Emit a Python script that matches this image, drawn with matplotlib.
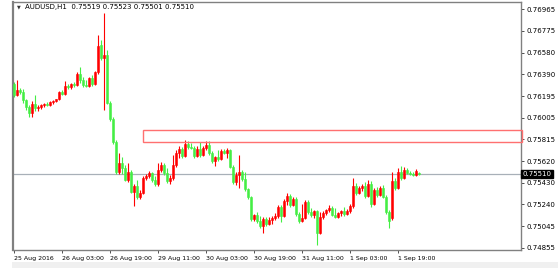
import matplotlib
matplotlib.use("Agg")
import matplotlib.pyplot as plt
from matplotlib.patches import Rectangle
import numpy as np

# AUDUSD H1 candles, prices in points (1e-5)
opens = [76303, 76206, 76250, 76232, 76161, 76100, 76047, 76126, 76091, 76100,
         76117, 76126, 76117, 76144, 76153, 76170, 76232, 76214, 76285, 76276,
         76303, 76294, 76391, 76338, 76294, 76285, 76356, 76303, 76409, 76647,
         76532, 76559, 76135, 75994, 75791, 75526, 75605, 75561, 75455, 75526,
         75349, 75402, 75305, 75340, 75473, 75490, 75517, 75455, 75420, 75543,
         75587, 75517, 75446, 75473, 75587, 75693, 75729, 75667, 75773, 75746,
         75738, 75667, 75729, 75676, 75738, 75764, 75693, 75623, 75658, 75640,
         75711, 75693, 75720, 75570, 75437, 75499, 75526, 75464, 75376, 75305,
         75111, 75146, 75093, 75049, 75111, 75067, 75102, 75120, 75137, 75217,
         75137, 75270, 75314, 75234, 75287, 75155, 75093, 75120, 75261, 75172,
         75146, 75181, 74987, 75128, 75164, 75190, 75208, 75146, 75128, 75164,
         75181, 75155, 75181, 75225, 75402, 75340, 75384, 75402, 75314, 75420,
         75243, 75367, 75323, 75384, 75305, 75172, 75120, 75446, 75384, 75526,
         75473, 75543, 75517, 75508, 75499, 75519]
highs = [76320, 76338, 76267, 76259, 76170, 76117, 76153, 76206, 76117, 76126,
         76135, 76144, 76153, 76161, 76170, 76241, 76250, 76329, 76303, 76312,
         76320, 76409, 76453, 76365, 76338, 76365, 76382, 76418, 76735, 76691,
         76930, 76603, 76153, 76011, 75808, 75693, 75658, 75587, 75605, 75543,
         75420, 75455, 75367, 75490, 75508, 75535, 75526, 75490, 75605, 75614,
         75605, 75561, 75499, 75676, 75720, 75755, 75746, 75808, 75799, 75782,
         75755, 75755, 75791, 75755, 75799, 75799, 75711, 75667, 75720, 75729,
         75729, 75738, 75729, 75587, 75526, 75676, 75543, 75526, 75384, 75314,
         75155, 75172, 75137, 75128, 75128, 75128, 75137, 75164, 75234, 75234,
         75287, 75340, 75331, 75305, 75305, 75172, 75243, 75278, 75278, 75208,
         75190, 75190, 75172, 75181, 75199, 75234, 75225, 75208, 75172, 75190,
         75217, 75199, 75243, 75473, 75429, 75402, 75420, 75437, 75455, 75446,
         75384, 75393, 75402, 75411, 75323, 75190, 75526, 75473, 75561, 75579,
         75570, 75561, 75535, 75526, 75552, 75523]
lows = [76188, 76197, 76214, 76135, 76073, 76011, 76011, 76064, 76064, 76082,
        76100, 76108, 76108, 76126, 76144, 76161, 76206, 76206, 76259, 76259,
        76276, 76285, 76312, 76276, 76276, 76276, 76285, 76294, 76391, 76515,
        76073, 76126, 75976, 75773, 75508, 75508, 75508, 75446, 75437, 75340,
        75225, 75287, 75287, 75331, 75455, 75473, 75437, 75402, 75402, 75526,
        75499, 75429, 75420, 75455, 75570, 75649, 75649, 75658, 75729, 75729,
        75649, 75658, 75658, 75667, 75720, 75676, 75605, 75579, 75623, 75632,
        75685, 75649, 75561, 75420, 75411, 75384, 75446, 75358, 75287, 75093,
        75093, 75075, 75031, 74987, 75049, 75058, 75067, 75102, 75120, 75084,
        75128, 75234, 75217, 75225, 75137, 75075, 75084, 75111, 75155, 75128,
        75120, 74881, 74978, 75111, 75146, 75172, 75137, 75120, 75120, 75137,
        75137, 75146, 75164, 75208, 75323, 75331, 75358, 75296, 75305, 75217,
        75234, 75305, 75314, 75296, 75155, 75031, 75102, 75367, 75376, 75455,
        75464, 75508, 75499, 75490, 75490, 75501]
closes = [76206, 76250, 76232, 76161, 76100, 76047, 76126, 76091, 76100, 76117,
          76126, 76117, 76144, 76153, 76170, 76232, 76214, 76285, 76276, 76303,
          76294, 76391, 76338, 76294, 76285, 76356, 76303, 76409, 76638, 76532,
          76559, 76135, 75994, 75791, 75526, 75605, 75561, 75455, 75526, 75349,
          75402, 75305, 75340, 75473, 75490, 75517, 75455, 75420, 75543, 75587,
          75517, 75446, 75473, 75587, 75693, 75729, 75667, 75773, 75746, 75738,
          75667, 75729, 75676, 75738, 75764, 75693, 75623, 75658, 75640, 75711,
          75693, 75720, 75570, 75437, 75499, 75526, 75464, 75376, 75305, 75111,
          75146, 75093, 75049, 75111, 75067, 75102, 75120, 75137, 75217, 75137,
          75270, 75314, 75234, 75287, 75155, 75093, 75120, 75261, 75172, 75146,
          75181, 74987, 75128, 75164, 75190, 75208, 75146, 75128, 75164, 75181,
          75155, 75181, 75225, 75402, 75340, 75384, 75402, 75314, 75420, 75243,
          75367, 75323, 75384, 75305, 75172, 75093, 75446, 75384, 75526, 75473,
          75543, 75517, 75508, 75499, 75535, 75510]

time_labels = ["25 Aug 2016", "26 Aug 03:00", "26 Aug 19:00", "29 Aug 11:00",
               "30 Aug 03:00", "30 Aug 19:00", "31 Aug 11:00", "1 Sep 03:00",
               "1 Sep 19:00"]
price_ticks = [0.76965, 0.76775, 0.76580, 0.76390, 0.76195, 0.76005,
               0.75815, 0.75620, 0.75430, 0.75240, 0.75045, 0.74855]
zone_top, zone_bottom = 0.75897, 0.75790
zone_start = 43
bid = 0.75510

o = np.array(opens) / 1e5
h = np.array(highs) / 1e5
l = np.array(lows) / 1e5
c = np.array(closes) / 1e5
idx = np.arange(len(c))

up_col = "#ff0000"
dn_col = "#44ee44"

fig = plt.figure(figsize=(5.58, 2.68), dpi=100)
fig.patch.set_facecolor("white")
ax = fig.add_axes([13 / 558, 18 / 268, 508 / 558, 248 / 268])

up = c >= o
cols = np.where(up, up_col, dn_col)
ax.vlines(idx, l, h, colors=cols, linewidth=0.8, zorder=2)
body_lo = np.minimum(o, c)
body_h = np.abs(c - o)
ax.bar(idx, body_h, bottom=body_lo, width=0.7, color=cols,
       edgecolor=cols, linewidth=0.4, zorder=3)

# bid line
ax.axhline(bid, color="#a8b0b8", linewidth=0.9, zorder=1)

# resistance zone, runs to the right edge of the chart
xmax = 169
ax.add_patch(Rectangle((zone_start, zone_bottom), xmax + 0.5 - zone_start,
                       zone_top - zone_bottom, fill=False,
                       edgecolor="#ff7070", linewidth=1.0, zorder=4,
                       clip_on=False))

ax.set_xlim(-0.4, xmax)
ax.set_ylim(0.74837, 0.77027)

for s in ax.spines.values():
    s.set_color("#808080")
    s.set_linewidth(1.0)
ax.spines["left"].set_linewidth(1.6)

ax.yaxis.tick_right()
ax.set_yticks(price_ticks)
ax.set_yticklabels(["%.5f" % p for p in price_ticks])
ax.set_xticks(np.arange(len(time_labels)) * 16)
ax.set_xticklabels(time_labels, ha="left")
ax.tick_params(axis="both", colors="#333333", length=2,
               width=0.6, pad=2, labelcolor="black")
ax.tick_params(axis="y", labelsize=5)
ax.tick_params(axis="x", labelsize=4.5)

# bid label
ax.text(1.003, bid, "%.5f" % bid, transform=ax.get_yaxis_transform(),
        ha="left", va="center", fontsize=5, color="white",
        bbox=dict(boxstyle="square,pad=0.15", fc="black", ec="black"))

# header
fig.text(17 / 558, 1 - 7 / 268, "\u25bc", fontsize=3.5, va="center",
         color="#333333")
fig.text(25 / 558, 1 - 7 / 268, "AUDUSD,H1  0.75519 0.75523 0.75501 0.75510",
         fontsize=5, va="center", color="black")

# scrollbar strip at the bottom
fig.patches.append(Rectangle((12 / 558, 0), 546 / 558, 6 / 268,
                             transform=fig.transFigure, fc="#f0f0f0",
                             ec="none", zorder=0))

fig.savefig("out.png", dpi=100)
